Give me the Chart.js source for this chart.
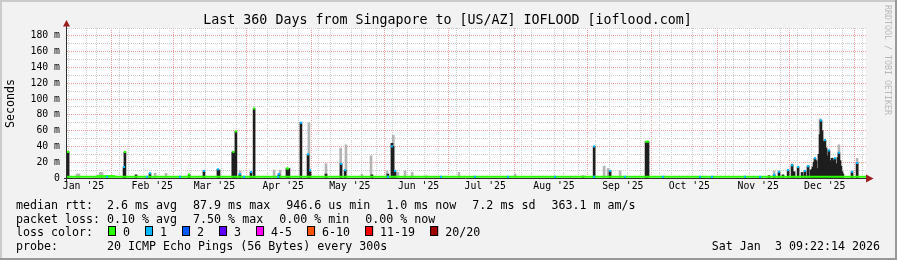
<!DOCTYPE html>
<html><head><meta charset="utf-8">
<script src="https://cdn.jsdelivr.net/npm/chart.js@4/dist/chart.umd.min.js"></script>
<style>html,body{margin:0;padding:0;background:#f2f2f2;}canvas{display:block;}</style>
</head><body>
<canvas id="c" width="897" height="260" style="width:897px;height:260px"></canvas>
<script>
// ---------------- data ----------------
const TITLE = "Last 360 Days from Singapore to [US/AZ] IOFLOOD [ioflood.com]";
const START_UTC = Date.UTC(2025, 0, 9);   // left edge of the time axis
const SPAN_DAYS = 360;

const monthLabels = ["Jan '25","Feb '25","Mar '25","Apr '25","May '25","Jun '25","Jul '25","Aug '25","Sep '25","Oct '25","Nov '25","Dec '25"];
const yTickValues = [0,10,20,30,40,50,60,70,80,90,100,110,120,130,140,150,160,170,180,190];
const yTickLabels = ["0","","20 m","","40 m","","60 m","","80 m","","100 m","","120 m","","140 m","","160 m","","180 m",""];

// dense smoke (black) – day offset from start, top in ms
const darkDays = [0.5,25.7,26.1,31.1,37.4,55.0,61.7,68.0,68.5,74.7,75.3,76.1,77.9,82.9,84.3,95.5,99.1,100.0,105.4,108.6,109.5,116.7,123.5,125.3,137.4,144.6,146.4,146.9,147.8,232.5,237.5,244.7,260.9,261.8,
  316.3,318.6,320.8,322.6,324.9,326.7,327.6,329.4,331.2,332.5,333.9,335.2,335.7,336.1,336.6,337.0,337.5,337.9,338.4,338.8,339.3,339.7,340.2,340.6,341.1,341.5,342.0,342.4,342.9,343.3,343.8,344.2,344.7,345.1,345.6,346.0,346.5,346.9,347.4,347.8,348.3,348.7,349.2,349.6,353.7,356.0];
const darkTop = [33,14,33,4,6,4.5,9,11,10,33,33,59,5,7.6,88,5,12,12,70,30,8,5,18,10,4,5,44,40,9,2.5,40,9,46,46,
  3,4,8,4,10,16.5,8,14,7,9,15,10,11,14,20,25,22,12,8,30,55,73,60,46,40,48,38,20,28,35,22,18,25,20,22,25,18,12,26,32,22,15,8,5,8,19];

// light smoke (grey)
const lightDays = [4.5,5.0,5.4,14.9,15.8,39.7,44.6,78.0,93.3,96.0,109.0,116.7,123.3,125.7,132.9,137.0,144.2,147.0,149.1,152.3,155.5,161.8,176.6,201.9,242.0,243.8,249.2,318.6,326.7,333.9,339.3,347.8,356.0];
const lightTop  = [5,5,5,7,7,6,6,9,10,10,70,18,38,42,5,28,9,54,7,9,7,3,7,5,15,12,9,9,18,16,75,42,25];

// median rtt marks: day, value (ms), loss class index
const markDays = [0.5,25.7,26.1,37.4,55.0,61.7,68.0,75.0,76.1,77.9,82.9,84.3,95.5,99.1,99.6,105.4,108.6,109.5,123.5,125.3,146.4,147.8,237.5,244.7,260.9,261.8,318.6,320.8,324.9,326.7,329.4,332.5,333.9,337.0,339.7,341.5,343.3,346.0,347.8,353.7,356.0];
const markVals = [33,14,33,6,4.5,9,11,33,59,5,7.6,88,5,12,12,70,30,10,18,10,40,9,40,9,46,46,4,8,10,16,14,9,15,25,73,48,35,25,32,8,19];
const markLoss = [0,1,0,1,0,1,1,0,0,1,1,0,1,0,0,1,1,1,1,1,1,1,1,1,0,0,1,1,1,1,1,1,1,1,1,1,1,1,1,1,1];

// median baseline
const baseDays = [0, 360];
const baseVals = [1.5, 1.5];
const bumpDays = [13.5, 21.6];
const bumpVals = [2.4, 2.4];
// baseline positions with 1 lost packet
const lossBaseDays = [18.0,36.0,50.9,79.8,95.1,144.6,168.5,183.8,198.7,219.9,237.5,251.4,268.5,285.2,290.6,305.5,312.3];

const lossLabels = ["0","1","2","3","4-5","6-10","11-19","20/20"];
const lossColors = ["#26ff00","#00b8ff","#0059ff","#5e00ff","#ff00ff","#ff5500","#ff0000","#a10000"];

const medianStats = ["2.6 ms avg","87.9 ms max","946.6 us min","1.0 ms now","7.2 ms sd","363.1 m am/s"];
const lossStats = ["0.10 % avg","7.50 % max","0.00 % min","0.00 % now"];
const probeText = "20 ICMP Echo Pings (56 Bytes) every 300s";
const dateText = "Sat Jan  3 09:22:14 2026";

// ---------------- helpers ----------------
const DAY = 86400000;
const dayOf = (y, m, d, h) => (Date.UTC(y, m, d, h || 0) - START_UTC) / DAY;
const xTicks = [];
(function buildXTicks(){
  // weekly (Sunday) minor lines
  for (let t = dayOf(2025,0,12); t <= SPAN_DAYS; t += 7) xTicks.push({value:t, kind:'week', label:''});
  // month starts
  for (let m = 1; m <= 12; m++) { const t = dayOf(2025, m, 1); if (t <= SPAN_DAYS) xTicks.push({value:t, kind:'month', label:''}); }
  // month labels
  monthLabels.forEach((l, m) => xTicks.push({value: dayOf(2025, m, 16, 10), kind:'label', label:l}));
  xTicks.sort((a,b) => a.value - b.value || (a.kind === 'month' ? 1 : -1));
})();

const MONO = '"DejaVu Sans Mono", monospace';
Chart.defaults.font.family = MONO;
const RED = '#f0a0a0', GREY = '#cdcdcd';

const decor = {
  id: 'decor',
  beforeDraw(chart) {
    const {ctx, chartArea: a} = chart;
    ctx.save();
    ctx.fillStyle = '#f2f2f2'; ctx.fillRect(0, 0, 897, 260);
    ctx.fillStyle = '#cbcbcb'; ctx.fillRect(0, 0, 897, 2); ctx.fillRect(0, 0, 2, 260);
    ctx.fillStyle = '#999999'; ctx.fillRect(0, 258, 897, 2); ctx.fillRect(895, 0, 2, 260);
    ctx.fillStyle = '#ffffff'; ctx.fillRect(a.left, a.top, a.right - a.left, a.bottom - a.top);
    ctx.restore();
  },
  afterDraw(chart) {
    const {ctx, chartArea: a} = chart;
    ctx.save();
    // axes
    ctx.strokeStyle = '#303030'; ctx.lineWidth = 1;
    ctx.beginPath();
    ctx.moveTo(a.left - 3, a.bottom + 0.5); ctx.lineTo(a.right + 1, a.bottom + 0.5);
    ctx.moveTo(a.left - 0.5, a.bottom + 3); ctx.lineTo(a.left - 0.5, a.top - 2);
    ctx.stroke();
    ctx.fillStyle = '#9b1c1c';
    ctx.beginPath(); ctx.moveTo(a.right, a.bottom - 3.5); ctx.lineTo(a.right + 7.5, a.bottom + 0.5); ctx.lineTo(a.right, a.bottom + 4.5); ctx.closePath(); ctx.fill();
    ctx.beginPath(); ctx.moveTo(a.left - 4, a.top - 1.5); ctx.lineTo(a.left - 0.5, a.top - 8); ctx.lineTo(a.left + 3, a.top - 1.5); ctx.closePath(); ctx.fill();

    // title
    ctx.fillStyle = '#000';
    ctx.font = '13.3px ' + MONO; ctx.textAlign = 'center'; ctx.textBaseline = 'alphabetic';
    ctx.fillText(TITLE, 447.5, 23.5);

    // y axis title
    ctx.save();
    ctx.font = '11.65px ' + MONO;
    ctx.translate(13.5, 103.5); ctx.rotate(-Math.PI / 2);
    ctx.fillText('Seconds', 0, 0);
    ctx.restore();

    // watermark
    ctx.save();
    ctx.fillStyle = '#b8b8b8'; ctx.font = '8.3px ' + MONO; ctx.textAlign = 'left';
    ctx.translate(885, 5); ctx.rotate(Math.PI / 2);
    ctx.fillText('RRDTOOL / TOBI OETIKER', 0, 0);
    ctx.restore();

    // legend
    ctx.font = '11.65px ' + MONO; ctx.textAlign = 'left'; ctx.fillStyle = '#000';
    const rows = [208.5, 222.5, 236.3, 250.3];
    ctx.fillText('median rtt:', 16, rows[0]);
    let x = 107;
    medianStats.forEach(s => { ctx.fillText(s, x, rows[0]); x += ctx.measureText(s).width + 16; });
    ctx.fillText('packet loss:', 16, rows[1]);
    x = 107;
    lossStats.forEach(s => { ctx.fillText(s, x, rows[1]); x += ctx.measureText(s).width + 16; });
    ctx.fillText('loss color:', 16, rows[2]);
    x = 108;
    lossLabels.forEach((l, i) => {
      ctx.fillStyle = lossColors[i]; ctx.fillRect(x, 226, 8, 10);
      ctx.strokeStyle = '#000'; ctx.strokeRect(x + 0.5, 226.5, 7, 9);
      ctx.fillStyle = '#000';
      ctx.fillText(l, x + 15, rows[2]);
      x += 15 + ctx.measureText(l).width + 15;
    });
    ctx.fillText('probe:', 16, rows[3]);
    ctx.fillText(probeText, 107, rows[3]);
    ctx.textAlign = 'right';
    ctx.fillText(dateText, 880, rows[3]);
    ctx.restore();
  }
};

const pts = (xs, ys) => xs.map((d, i) => ({x: d, y: ys[i]}));

new Chart(document.getElementById('c'), {
  type: 'bar',
  data: {
    datasets: [
      {type:'bar', label:'smoke', data: pts(lightDays, lightTop), backgroundColor:'#b4b4b4', barThickness:2, grouped:false, order:5},
      {type:'bar', label:'dense smoke', data: pts(darkDays, darkTop), backgroundColor:'#1e1e1e', barThickness:2, grouped:false, order:4},
      {type:'line', label:'median', data: pts(baseDays, baseVals), borderColor:'#26ff00', borderWidth:2, pointRadius:0, order:3},
      {type:'line', label:'median2', data: pts(bumpDays, bumpVals), borderColor:'#26ff00', borderWidth:2, pointRadius:0, order:3},
      {type:'line', label:'loss on median', data: lossBaseDays.map(d => ({x:d, y:baseVals[0]})), showLine:false, pointStyle:'rect', pointRadius:1.5, pointBorderWidth:0, pointBackgroundColor: lossColors[1], order:2},
      {type:'line', label:'median marks', data: pts(markDays, markVals), showLine:false, pointStyle:'rect', pointRadius:1.5, pointBorderWidth:0,
        pointBackgroundColor: markLoss.map(k => lossColors[k]), order:1}
    ]
  },
  options: {
    responsive: false, animation: false, devicePixelRatio: 1, events: [],
    layout: {padding: {left: 0, top: 28, right: 31, bottom: 68}},
    plugins: {legend: {display: false}, tooltip: {enabled: false}, title: {display: false}},
    scales: {
      x: {
        type: 'linear', min: 0, max: SPAN_DAYS, offset: false,
        afterBuildTicks: s => { s.ticks = xTicks.map(t => ({value: t.value})); },
        afterFit: s => { s.height = 14; },
        ticks: {autoSkip: false, maxRotation: 0, minRotation: 0, padding: 3, color: '#000', font: {size: 9.8},
          callback: (v, i) => xTicks[i] ? xTicks[i].label : ''},
        grid: {drawTicks: false, lineWidth: 1,
          color: c => { const t = xTicks[c.index]; if (!t) return 'rgba(0,0,0,0)'; return t.kind === 'month' ? RED : (t.kind === 'week' ? GREY : 'rgba(0,0,0,0)'); }},
        border: {display: false, dash: [1, 1]}
      },
      y: {
        type: 'linear', min: 0, max: 190, position: 'left',
        afterBuildTicks: s => { s.ticks = yTickValues.map(v => ({value: v})); },
        afterFit: s => { s.width = 67; },
        ticks: {autoSkip: false, padding: 7, color: '#000', font: {size: 9.8},
          callback: (v, i) => yTickLabels[i]},
        grid: {drawTicks: false, lineWidth: 1,
          color: c => { const v = yTickValues[c.index]; if (v === 0) return 'rgba(0,0,0,0)'; return v % 20 === 0 ? RED : GREY; }},
        border: {display: false, dash: [1, 1]}
      }
    }
  },
  plugins: [decor]
});
</script>
</body></html>
